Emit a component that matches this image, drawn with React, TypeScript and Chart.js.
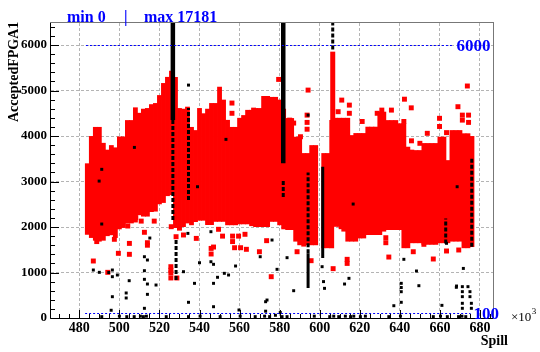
import React, { useEffect, useRef } from "react";
import { Chart, registerables } from "chart.js";

Chart.register(...registerables);

const SERIF = "'Liberation Serif', 'Times New Roman', serif";

// ---------- axes ----------
const xTickLabels = [480, 500, 520, 540, 560, 580, 600, 620, 640, 660, 680];
const yTickLabels = [0, 1000, 2000, 3000, 4000, 5000, 6000];
const xRange = [465.87, 686.5];
const yRange = [0, 6485];

// ---------- dense red band (min / max of the red cloud per spill bin, x10^3) ----------
const bandSpill = [
  484, 486, 488, 490, 492, 494, 496, 498, 500, 502, 504, 506, 508, 510, 512, 514, 516, 518, 520, 522,
  524, 526, 528, 530, 532, 534, 536, 538, 540, 542, 544, 546, 548, 550, 552, 554, 556, 558, 560, 562,
  564, 566, 568, 570, 572, 574, 576, 578, 580, 582, 584, 586, 588, 590, 592, 594, 596, 598, 602, 604,
  606, 608, 610, 612, 614, 616, 618, 620, 622, 624, 626, 628, 630, 632, 634, 636, 638, 640, 642, 644,
  646, 648, 650, 652, 654, 656, 658, 660, 662, 664, 666, 668, 670, 672, 674, 676,
];
const bandHigh = [
  3400, 4000, 4200, 4200, 3850, 3700, 3800, 3750, 3990, 3990, 4350, 4350, 4630, 4510, 4600, 4615, 4700, 4725, 4900, 5165,
  5300, 5435, 5300, 4615, 4600, 4645, 4200, 4130, 4615, 4500, 4600, 4725, 4725, 5085, 4800, 4355, 4200, 4200, 4400, 4460,
  4575, 4575, 4615, 4615, 4880, 4880, 4860, 4860, 4800, 4600, 4395, 4395, 3985, 3985, 3625, 3625, 3800, 3800, 3625, 3625,
  4350, 4400, 4400, 4400, 4400, 4020, 4065, 4065, 4065, 4205, 4205, 4205, 4535, 4535, 4350, 4350, 4350, 4280, 4280, 3765,
  3700, 3690, 3690, 3845, 3845, 3845, 3845, 3985, 3985, 3470, 4130, 4130, 4130, 4060, 4060, 4000,
];
const bandLow = [
  1830, 1760, 1700, 1680, 1700, 1800, 1820, 1760, 1950, 1980, 2080, 2080, 2100, 2260, 2230, 2230, 2330, 2340, 2500, 2530,
  2680, 2700, 1980, 1980, 2000, 2080, 2040, 2110, 2140, 2140, 2045, 2045, 2115, 2115, 2115, 2040, 2040, 2040, 2060, 2060,
  2060, 2020, 2000, 2000, 2000, 2000, 2115, 2115, 2040, 1950, 1935, 1935, 1680, 1600, 1570, 1600, 1600, 1600, 1535, 1535,
  1535, 2005, 2005, 1900, 1680, 1680, 1680, 1750, 1750, 1825, 1825, 1825, 1825, 1900, 1935, 1935, 1935, 1935, 1535, 1535,
  1645, 1645, 1645, 1610, 1610, 1610, 1610, 1645, 1645, 1645, 1680, 1680, 1680, 1535, 1535, 1560,
];

// ---------- red outliers ----------
const redSpill = [
  579.5, 594.2, 556.2, 556.2, 567.0, 573.7, 585.0, 587.0, 590.4, 611.0, 614.8, 614.8, 642.3, 645.7, 635.8, 673.7, 669.0,
  659.8, 659.8, 663.3, 671.2, 671.2, 674.3, 674.3, 642.0, 621.2, 628.7, 631.0, 593.7, 593.7, 593.7, 645.8, 650.0, 653.7, 609.2,
  487.0, 488.7, 494.2, 497.5, 499.5, 504.2, 505.0, 505.0, 508.2, 510.9, 512.5, 514.0, 514.0, 517.4, 525.9, 525.7, 525.7,
  525.7, 525.7, 528.7, 528.3, 530.0, 532.0, 538.4, 545.8, 547.0, 545.8, 549.5, 551.5, 556.5, 556.5, 557.5, 559.5, 560.5,
  562.7, 563.4, 569.9, 573.5, 575.8, 588.7, 595.7, 610.7, 613.7, 613.7, 606.7, 633.0, 633.0, 634.5, 646.7, 652.0, 656.7,
  663.3, 669.4,
];
const redValue = [
  5245, 5010, 4725, 4500, 4570, 4575, 4350, 4285, 3985, 4790, 4680, 4500, 4810, 4620, 4570, 5100, 4645,
  4390, 4210, 4075, 4460, 4350, 4460, 4300, 4320, 4320, 4500, 4570, 4460, 4300, 4150, 3895, 3840, 4060, 4535,
  1253, 1680, 1004, 1730, 1422, 2022, 1640, 1400, 2205, 2130, 1884, 1655, 1600, 2130, 2007, 1128, 1050,
  990, 880, 880, 1787, 1975, 1825, 1750, 1530, 1560, 1407, 1950, 1800, 1800, 1680, 1545, 1800, 1545,
  1840, 1510, 1457, 1700, 908, 1457, 1260, 2007, 1290, 1200, 1085, 1765, 1655, 1340, 1457, 1620, 1297,
  1473, 1495,
];

// ---------- black points ----------
const blackSpill = [
  491.2, 489.9, 491.2, 507.5, 553.2, 539.0, 534.5, 594.2, 616.7, 668.6,
  487.0, 490.0, 494.7, 496.5, 496.5, 499.0, 496.5, 495.9, 503.4, 503.4, 504.9, 512.5, 514.0, 515.2, 512.5, 512.5,
  514.0, 518.3, 514.0, 512.5, 532.0, 534.2, 534.5, 537.5, 540.0, 545.7, 545.7, 547.0, 549.0, 547.0, 552.4, 554.5,
  547.0, 558.0, 559.7, 570.3, 576.2, 573.0, 573.0, 578.7, 583.7, 587.0, 573.7, 601.2, 601.9, 602.4, 612.4, 614.6,
  637.0, 640.7, 640.7, 640.7, 640.7, 642.0, 648.3, 649.5, 661.0, 668.2, 671.7, 663.3, 668.3, 671.2, 671.2, 671.2,
  671.2, 671.2, 674.0, 675.0, 675.0, 675.7, 675.7, 580.3,
  491.2, 500.0, 503.7, 507.4, 510.5, 512.0, 513.5, 523.4, 534.5, 540.3, 550.3, 560.3, 567.8, 572.5, 575.0, 577.9,
  581.2, 583.7, 597.3, 605.0, 607.0, 609.5, 612.8, 615.4, 617.0, 620.3, 622.8, 634.5, 640.3, 656.7, 660.3, 663.7,
  669.3, 671.0, 672.9,
];
const blackValue = [
  3268, 3010, 2066, 3750, 3927, 2886, 5120, 4460, 2505, 2886,
  1055, 1004, 1000, 1055, 908, 945, 468, 170, 550, 440, 820, 1347, 1275, 1758, 1040, 850,
  747, 725, 520, 213, 1018, 1860, 345, 762, 1215, 1897, 1237, 1180, 895, 762, 982, 945,
  248, 1143, 176, 1347, 1714, 358, 150, 1070, 1326, 600, 395, 1128, 800, 652, 747, 872,
  270, 762, 670, 578, 345, 1290, 1033, 710, 278, 675, 1090, 1642, 703, 689, 579, 469,
  323, 213, 689, 579, 469, 323, 213, 120,
  30, 40, 30, 30, 40, 30, 40, 30, 30, 40, 30, 40, 30, 40, 30, 60,
  30, 30, 40, 30, 40, 30, 40, 30, 40, 30, 40, 30, 40, 30, 40, 30,
  30, 40, 30,
];

// ---------- vertical streaks of many black points ----------
const solidStreakSpill = [526.7, 581.8];
const solidStreakLow = [4350, 3400];
const solidStreakHigh = [6485, 6485];

const thinStreakSpill = [601.5, 594.2];
const thinStreakLow = [1320, 660];
const thinStreakHigh = [3325, 1425];

const dottedStreakSpill = [526.7, 528.3, 534.5, 581.8, 594.2, 606.5, 675.9, 662.9];
const dottedStreakLow = [2155, 835, 2595, 2660, 1425, 5900, 1567, 1640];
const dottedStreakHigh = [4350, 1760, 4615, 3030, 3200, 6485, 3510, 2190];

const redStreakSpill = [606.5];
const redStreakLow = [4350];
const redStreakHigh = [5855];

// ---------- reference lines ----------
const refValues = [6000, 100];
const refFrom = [483.3, 482.9];
const refTo = [666.8, 675.3];

const statMin = 0;
const statMax = 17181;

const segs = (xs: number[], lo: number[], hi: number[]) =>
  xs.flatMap((x, i) => [
    { x, y: lo[i] },
    { x, y: hi[i] },
    { x, y: null as any },
  ]);

const overlay = {
  id: "rootOverlay",
  afterDraw(chart: any) {
    const { ctx, chartArea: a, scales } = chart;
    const xs = scales.x;
    const ys = scales.y;
    ctx.save();
    ctx.setLineDash([]);
    // frame
    ctx.lineWidth = 1;
    ctx.strokeStyle = "#777777";
    ctx.strokeRect(a.left - 0.5, a.top - 0.5, a.right - a.left + 1, a.bottom - a.top + 1);
    ctx.strokeStyle = "#000000";
    ctx.beginPath();
    ctx.moveTo(a.left - 0.5, a.top);
    ctx.lineTo(a.left - 0.5, a.bottom + 0.5);
    ctx.lineTo(a.right, a.bottom + 0.5);
    ctx.stroke();
    // tick marks (inside)
    ctx.beginPath();
    for (let v = 0; v <= yRange[1]; v += 200) {
      const py = Math.round(ys.getPixelForValue(v)) + 0.5;
      const len = v % 1000 === 0 ? 8 : 4;
      ctx.moveTo(a.left, py);
      ctx.lineTo(a.left + len, py);
    }
    for (let v = 470; v <= xRange[1]; v += 5) {
      const px = Math.round(xs.getPixelForValue(v)) + 0.5;
      const len = v % 20 === 0 ? 8 : 4;
      ctx.moveTo(px, a.bottom);
      ctx.lineTo(px, a.bottom - len);
    }
    ctx.stroke();

    // reference lines
    ctx.strokeStyle = "#0000ff";
    ctx.setLineDash([2, 2]);
    ctx.fillStyle = "#0000ff";
    ctx.font = `bold 17px ${SERIF}`;
    ctx.textBaseline = "middle";
    ctx.textAlign = "left";
    refValues.forEach((v, i) => {
      const py = Math.round(ys.getPixelForValue(v)) + 0.5;
      const x0 = xs.getPixelForValue(refFrom[i]);
      const x1 = xs.getPixelForValue(refTo[i]);
      ctx.beginPath();
      ctx.moveTo(x0, py);
      ctx.lineTo(x1, py);
      ctx.stroke();
      ctx.fillText(String(v), x1 + 3, py + 1);
    });
    ctx.setLineDash([]);

    // stat title
    ctx.font = `bold 16px ${SERIF}`;
    ctx.textBaseline = "alphabetic";
    ctx.fillText(`min ${statMin}`, 67, 22);
    ctx.fillText("|", 124, 22);
    ctx.fillText(`max ${statMax}`, 144, 22);

    // axis titles
    ctx.fillStyle = "#000000";
    ctx.font = `bold 14px ${SERIF}`;
    ctx.textAlign = "right";
    ctx.fillText("Spill", 508, 345);
    ctx.save();
    ctx.translate(18, 122);
    ctx.rotate(-Math.PI / 2);
    ctx.textAlign = "left";
    ctx.fillText("AcceptedFPGA1", 0, 0);
    ctx.restore();
    // exponent
    ctx.textAlign = "left";
    ctx.font = `13px ${SERIF}`;
    ctx.fillText("\u00d710", 511, 321);
    const w = ctx.measureText("\u00d710").width;
    ctx.font = `9px ${SERIF}`;
    ctx.fillText("3", 511 + w + 0.5, 314);
    ctx.restore();
  },
};

export default function App() {
  const ref = useRef<HTMLCanvasElement | null>(null);
  useEffect(() => {
    if (!ref.current) return;
    const tickFont = (size: number) => ({ family: SERIF, size, weight: "bold" as const });
    const chart = new Chart(ref.current, {
      type: "bar",
      data: {
        datasets: [
          {
            type: "bar",
            data: bandSpill.map((s, i) => ({ x: s, y: [bandLow[i], bandHigh[i]] })) as any,
            backgroundColor: "#ff0000",
            borderWidth: 0,
            barPercentage: 1.2,
            categoryPercentage: 1,
            order: 10,
          } as any,
          {
            type: "line",
            data: segs(redStreakSpill, redStreakLow, redStreakHigh),
            borderColor: "#ff0000",
            borderWidth: 5,
            pointRadius: 0,
            spanGaps: false,
            borderCapStyle: "butt",
            order: 6,
          } as any,
          {
            type: "scatter",
            data: redSpill.map((s, i) => ({ x: s, y: redValue[i] })),
            backgroundColor: "#ff0000",
            borderWidth: 0,
            pointStyle: "rect",
            pointRadius: 3.5,
            order: 5,
          } as any,
          {
            type: "line",
            data: segs(dottedStreakSpill, dottedStreakLow, dottedStreakHigh),
            borderColor: "#000000",
            borderWidth: 3,
            borderDash: [4, 2],
            pointRadius: 0,
            spanGaps: false,
            borderCapStyle: "butt",
            order: 3,
          } as any,
          {
            type: "line",
            data: segs(thinStreakSpill, thinStreakLow, thinStreakHigh),
            borderColor: "#000000",
            borderWidth: 3,
            pointRadius: 0,
            spanGaps: false,
            borderCapStyle: "butt",
            order: 2,
          } as any,
          {
            type: "line",
            data: segs(solidStreakSpill, solidStreakLow, solidStreakHigh),
            borderColor: "#000000",
            borderWidth: 4.5,
            pointRadius: 0,
            spanGaps: false,
            borderCapStyle: "butt",
            order: 2,
          } as any,
          {
            type: "scatter",
            data: blackSpill.map((s, i) => ({ x: s, y: blackValue[i] })),
            backgroundColor: "#000000",
            borderWidth: 0,
            pointStyle: "rect",
            pointRadius: 2.1,
            order: 1,
          } as any,
        ],
      },
      options: {
        responsive: false,
        animation: false,
        devicePixelRatio: 1,
        events: [],
        layout: { padding: { top: 23, right: 47, left: 0, bottom: 0 } },
        plugins: {
          legend: { display: false },
          tooltip: { enabled: false },
          title: { display: false },
        },
        scales: {
          x: {
            type: "linear",
            min: xRange[0],
            max: xRange[1],
            offset: false,
            afterBuildTicks: (s: any) => {
              s.ticks = xTickLabels.map((v) => ({ value: v }));
            },
            afterFit: (s: any) => {
              s.height = 34;
            },
            grid: { color: "#b4b4b4", lineWidth: 1, drawTicks: false, offset: false },
            border: { display: false, dash: [3, 2] },
            ticks: {
              padding: 2,
              color: "#000000",
              font: tickFont(14),
              maxRotation: 0,
              autoSkip: false,
              callback: (v: any) => String(v),
            },
          },
          y: {
            type: "linear",
            min: yRange[0],
            max: yRange[1],
            afterBuildTicks: (s: any) => {
              s.ticks = yTickLabels.map((v) => ({ value: v }));
            },
            afterFit: (s: any) => {
              s.width = 51;
            },
            grid: { color: "#b4b4b4", lineWidth: 1, drawTicks: false },
            border: { display: false, dash: [3, 2] },
            ticks: {
              padding: 4,
              color: "#000000",
              font: tickFont(13),
              autoSkip: false,
              callback: (v: any) => String(v),
            },
          },
        },
      } as any,
      plugins: [overlay],
    });
    return () => chart.destroy();
  }, []);

  return (
    <div style={{ position: "fixed", left: 0, top: 0, width: 540, height: 352, background: "#ffffff" }}>
      <canvas ref={ref} width={540} height={352} style={{ display: "block", width: 540, height: 352 }} />
    </div>
  );
}
